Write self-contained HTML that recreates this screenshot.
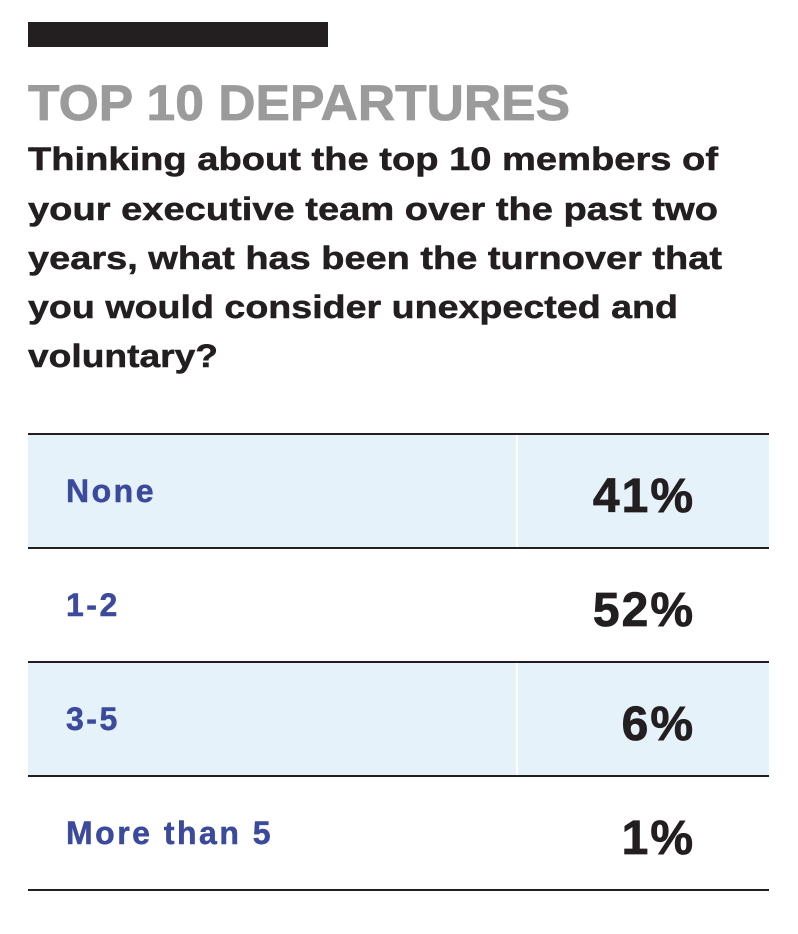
<!DOCTYPE html>
<html><head><meta charset="utf-8"><style>
html,body{margin:0;padding:0;background:#fff;}
svg{display:block;font-family:"Liberation Sans",sans-serif;font-weight:bold;}
</style></head><body>
<svg width="798" height="934" viewBox="0 0 798 934">
<rect x="28" y="22" width="300" height="25" fill="#231f20"/>
<text x="28" y="120" font-size="50" fill="#9b9b9b" stroke="#9b9b9b" stroke-width="0.8" textLength="542" lengthAdjust="spacingAndGlyphs">TOP 10 DEPARTURES</text>
<g fill="#231f20" stroke="#231f20" stroke-width="0.5" font-size="32">
<text x="28" y="170" textLength="690" lengthAdjust="spacingAndGlyphs">Thinking about the top 10 members of</text>
<text x="28" y="220" textLength="690" lengthAdjust="spacingAndGlyphs">your executive team over the past two</text>
<text x="28" y="269" textLength="694" lengthAdjust="spacingAndGlyphs">years, what has been the turnover that</text>
<text x="28" y="318" textLength="650" lengthAdjust="spacingAndGlyphs">you would consider unexpected and</text>
<text x="28" y="367" textLength="190" lengthAdjust="spacingAndGlyphs">voluntary?</text>
</g>
<g id="rows"></g>
</svg>
<script>
const categories=["None","1-2","3-5","More than 5"];
const values=[41,52,6,1];
const rowTop=434, rowH=114, left=28, right=769;
const g=document.getElementById('rows');
const NS="http://www.w3.org/2000/svg";
function mk(t,a){const e=document.createElementNS(NS,t);for(const k in a)e.setAttribute(k,a[k]);return e;}
categories.forEach((c,i)=>{
  const y=rowTop+i*rowH;
  if(i%2===0){
    const r=mk('rect',{x:left,y:y,width:right-left,height:rowH,fill:'#e5f2f9'});
    
    
    g.appendChild(r);
    const d=mk('line',{x1:517,y1:y,x2:517,y2:y+rowH,stroke:'#fff','stroke-width':2});
    
    
    g.appendChild(d);
  }
  const l=mk('text',{x:66,y:y+68,'font-size':32,'letter-spacing':2.5,fill:'#3b4a9c',stroke:'#3b4a9c','stroke-width':0.5});
  l.textContent=c;
  
  
  g.appendChild(l);
  const v=mk('text',{x:695,y:y+78,'font-size':48,'letter-spacing':2,fill:'#231f20',stroke:'#231f20','stroke-width':0.8,'text-anchor':'end'});
  v.textContent=values[i]+'%';
  
  
  g.appendChild(v);
});
for(let i=0;i<=categories.length;i++){
  const y=rowTop+i*rowH;
  const ln=mk('line',{x1:left,y1:y,x2:right,y2:y,stroke:'#231f20','stroke-width':2});
  
  
  g.appendChild(ln);
}
</script>
</body></html>
